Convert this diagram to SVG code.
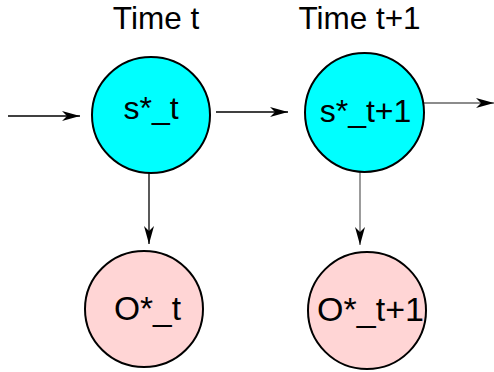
<svg xmlns="http://www.w3.org/2000/svg" width="494" height="372" viewBox="0 0 494 372">
<style>
.lbl{font-family:"Liberation Sans",Arial,sans-serif;fill:#000;text-anchor:middle}
.state{fill:#00FFFF;stroke:#000;stroke-width:2}
.obs{fill:#FFD5D5;stroke:#000;stroke-width:2}
.edge{stroke:#000;stroke-width:1.3;fill:none;marker-end:url(#ah)}
.edge.gray{stroke:#666}
</style>
<defs>
<marker id="ah" markerUnits="userSpaceOnUse" markerWidth="19" markerHeight="11" refX="18" refY="5" orient="auto">
<path d="M0,0 L18,5 L0,10 L5,5 z" fill="#000"/>
</marker>
</defs>
<rect width="494" height="372" fill="#fff"/>
<text class="lbl" x="156" y="29" font-size="31.5">Time t</text>
<text class="lbl" x="359.5" y="29" font-size="31.5">Time t+1</text>
<g id="connectors">
<line class="edge" x1="8" y1="116" x2="80" y2="116"/>
<line class="edge" x1="216" y1="112" x2="288" y2="112"/>
<line class="edge gray" x1="424" y1="103" x2="494" y2="103"/>
<line class="edge" x1="149" y1="173" x2="149" y2="244"/>
<line class="edge gray" x1="360" y1="172" x2="360" y2="245"/>
</g>
<g id="s_t">
<ellipse class="state" cx="151" cy="115" rx="59" ry="58"/>
<text class="lbl" x="151" y="119" font-size="32">s*_t</text>
</g>
<g id="s_t1">
<ellipse class="state" cx="364.5" cy="112.5" rx="59.5" ry="59.5"/>
<text class="lbl" x="365.5" y="122" font-size="32">s*_t+1</text>
</g>
<g id="o_t">
<ellipse class="obs" cx="144" cy="309" rx="59" ry="58"/>
<text class="lbl" x="147.5" y="320" font-size="33.5">O*_t</text>
</g>
<g id="o_t1">
<ellipse class="obs" cx="367" cy="310.5" rx="59" ry="58.5"/>
<text class="lbl" x="370.5" y="321" font-size="34">O*_t+1</text>
</g>
</svg>
